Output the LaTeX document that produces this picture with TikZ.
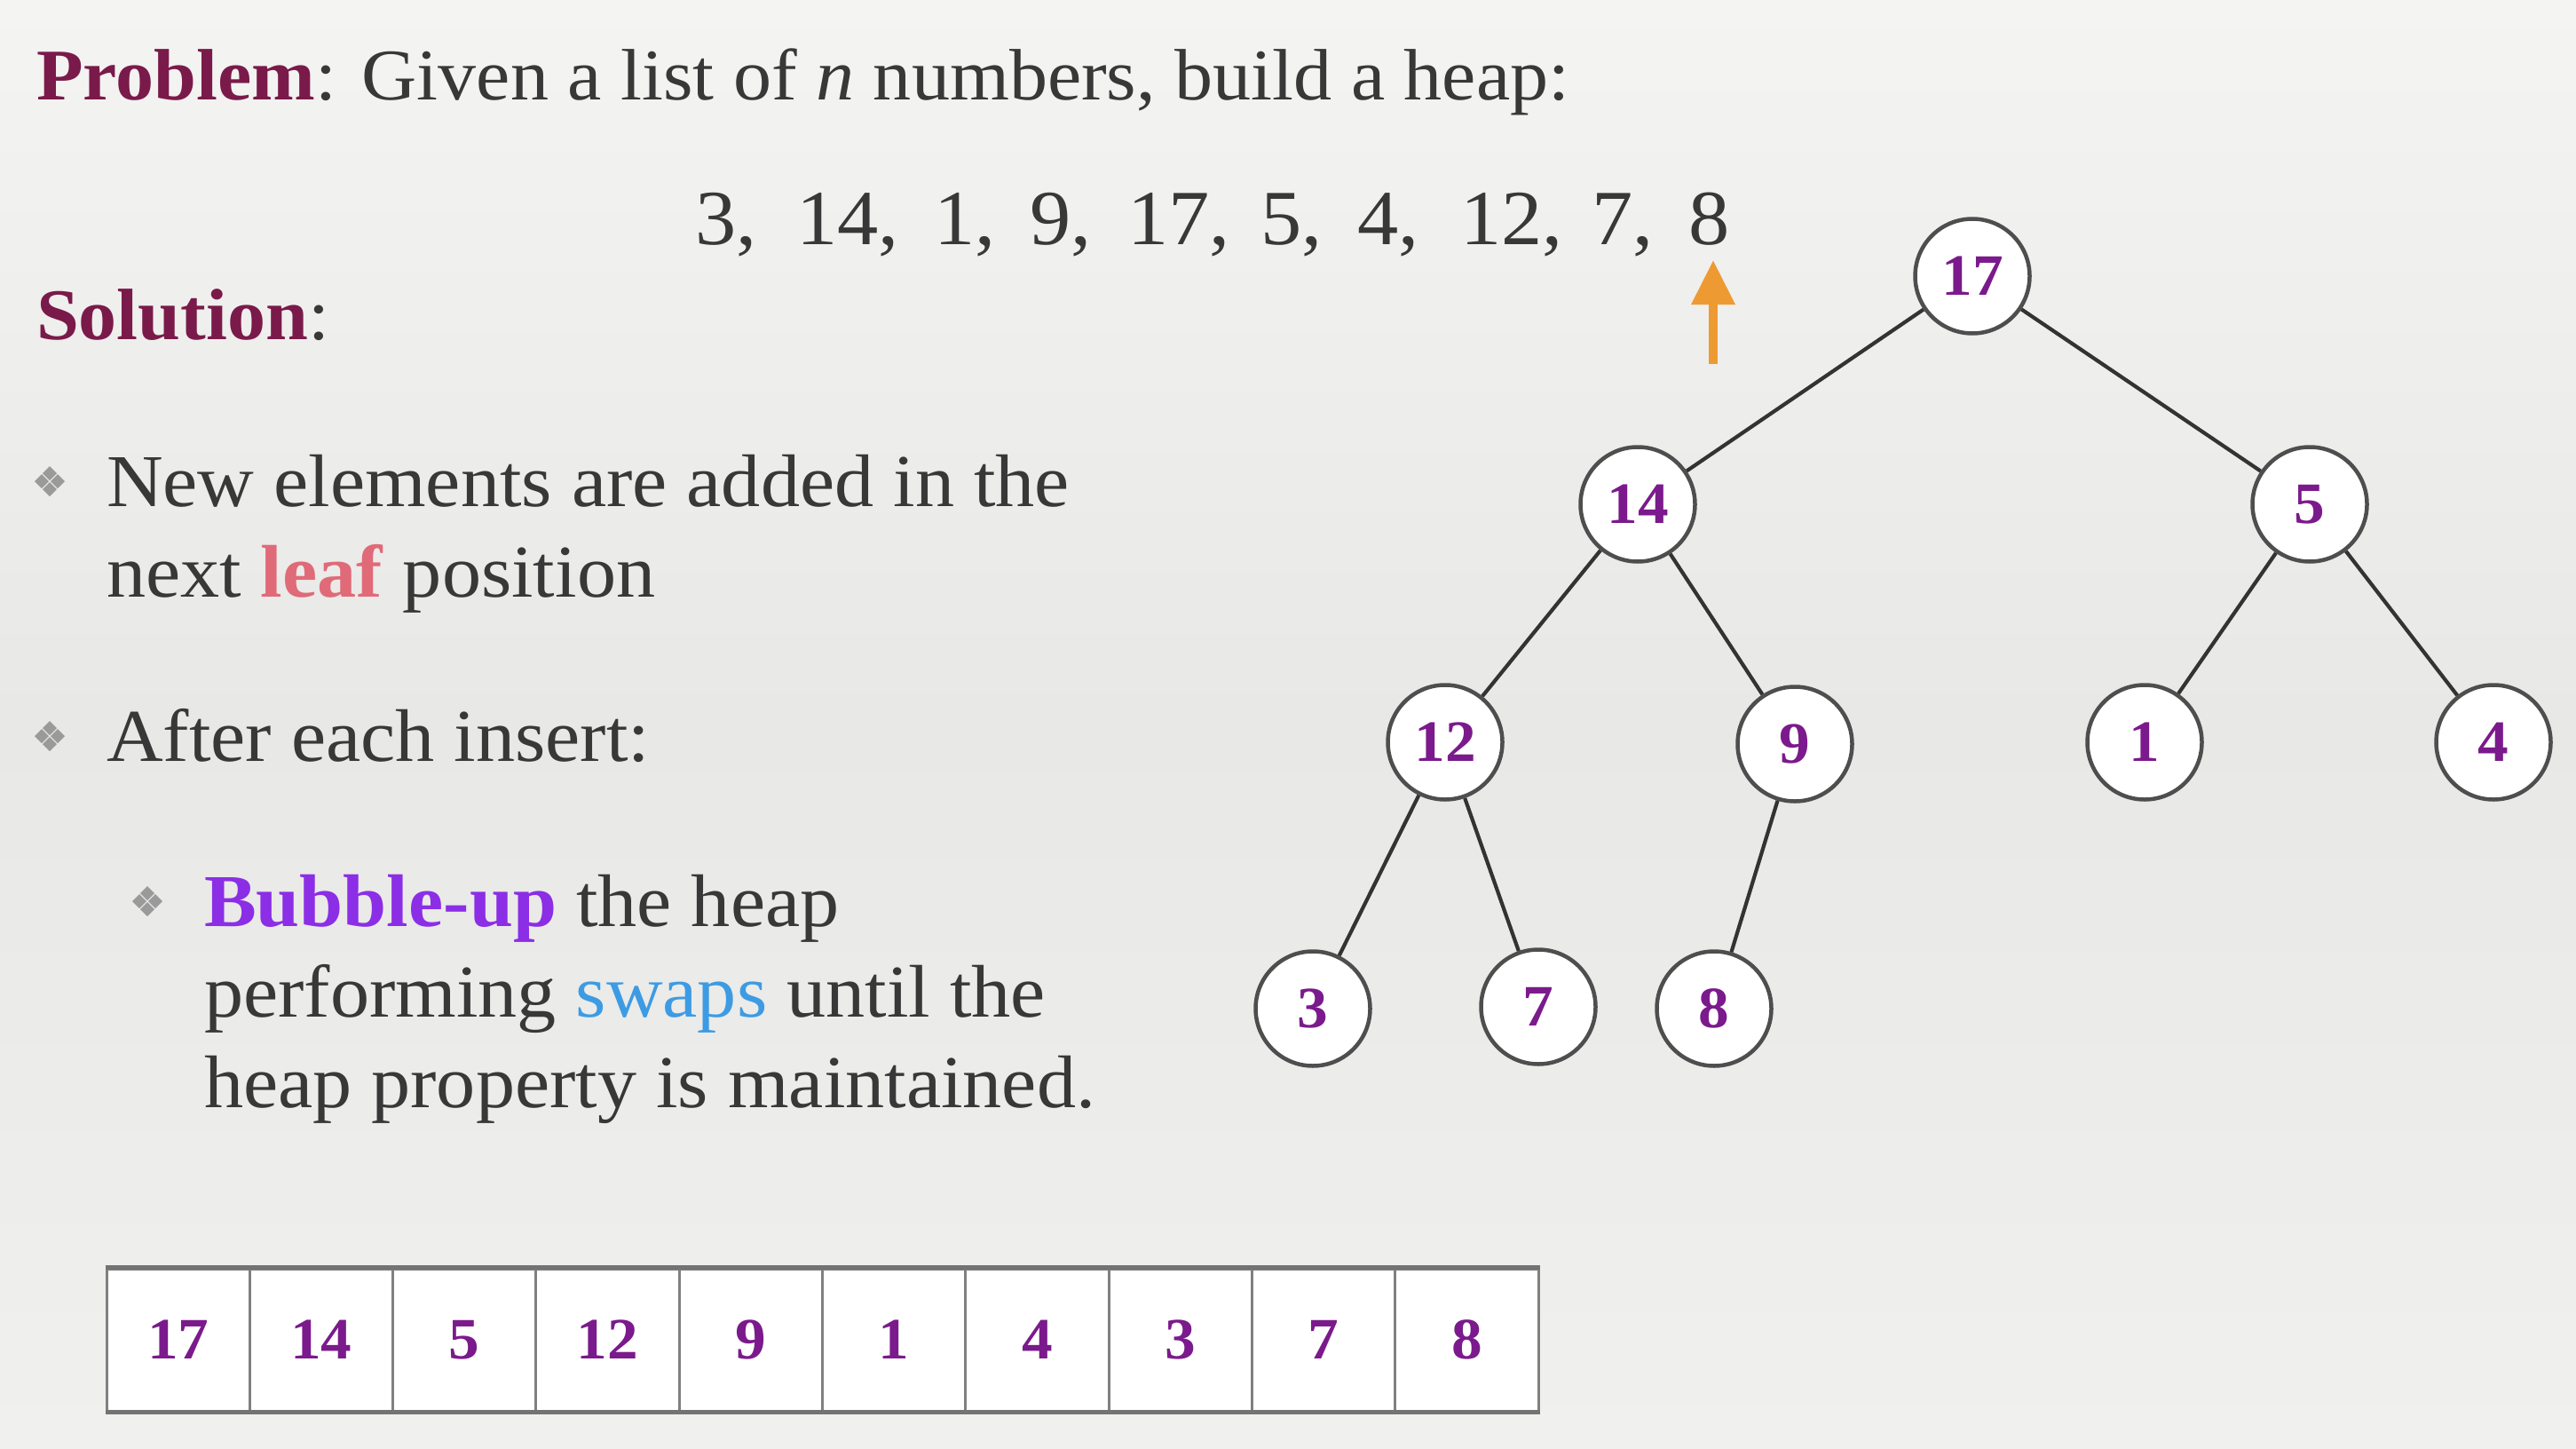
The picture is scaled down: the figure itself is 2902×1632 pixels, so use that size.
\documentclass[tikz,border=0pt]{standalone}
\usepackage{fontspec}
\setmainfont{Liberation Serif}[FakeStretch=1.05]
\usetikzlibrary{arrows.meta}
\definecolor{maroonc}{HTML}{7A1A4A}
\definecolor{txtc}{HTML}{383838}
\definecolor{leafc}{HTML}{E06A78}
\definecolor{bubc}{HTML}{8B2EE6}
\definecolor{swapc}{HTML}{3D9BE3}
\definecolor{nodec}{HTML}{7B1A8C}
\definecolor{arrc}{HTML}{EE9A33}
\definecolor{circc}{HTML}{4E4E4E}
\definecolor{edgec}{HTML}{333333}
\definecolor{bulc}{HTML}{9A9A9A}
\definecolor{cellc}{HTML}{808080}
\newcommand\bodyfont{\fontsize{84}{102}\selectfont}
\newcommand\headfont{\fontsize{82}{100}\selectfont}
\newcommand\seqfont{\fontsize{88}{100}\selectfont}
\newcommand\numfont{\fontsize{66}{70}\selectfont\bfseries}
\tikzset{
  txt/.style={anchor=base west, inner sep=0pt, outer sep=0pt, text=txtc, font=\bodyfont},
  head/.style={txt, font=\headfont},
  seq/.style={anchor=base west, inner sep=0pt, text=txtc, font=\seqfont},
  hn/.style={circle, draw=circc, line width=4.5pt, fill=white, minimum size=129pt, inner sep=0pt, font=\numfont, text=nodec},
  edge/.style={draw=edgec, line width=4.2pt},
  cell/.style={rectangle, draw=cellc, line width=3pt, fill=white, minimum width=161.3pt, minimum height=160pt, inner sep=0pt, font=\numfont, text=nodec},
  diab/.pic={
    \foreach \a/\b in {0/-9,0/9,-9/0,9/0}
      \fill[bulc] (\a,\b+8) -- (\a+8,\b) -- (\a,\b-8) -- (\a-8,\b) -- cycle;
  }
}
\begin{document}
\begin{tikzpicture}[x=1pt,y=-1pt]
\useasboundingbox (0,0) rectangle (2902,1632);
\shade[top color={rgb,255:red,244;green,244;blue,242}, bottom color={rgb,255:red,232;green,232;blue,230}] (0,0) rectangle (2902,816);
\shade[top color={rgb,255:red,232;green,232;blue,230}, bottom color={rgb,255:red,240;green,240;blue,238}] (0,816) rectangle (2902,1632);

% header text
\node[head] (prob) at (41,113) {\textcolor{maroonc}{\textbf{Problem}}: Given a list of \textit{n} numbers, build a heap:};
\node[head] (sol) at (41,382) {\textcolor{maroonc}{\textbf{Solution}}:};

% sequence
\foreach \x/\t [count=\i] in {783/{3,},897/{14,},1052/{1,},1160/{9,},1270/{17,},1420/{5,},1529/{4,},1645/{12,},1793/{7,},1902/{8}}
  \node[seq] (s\i) at (\x,275) {\t};

% arrow
\coordinate (arrA) at (1930,410);
\coordinate (arrB) at (1930,293);
\draw[arrc, line width=10pt, -{Triangle[width=47pt,length=50pt]}] (arrA) -- (arrB);

% bullets
\pic at (56,542) {diab};
\node[txt] (b1a) at (120,570) {New elements are added in the};
\node[txt] (b1b) at (120,672) {next \textcolor{leafc}{\textbf{leaf}} position};
\pic at (56,829) {diab};
\node[txt] (b2) at (120,857) {After each insert:};
\pic at (166,1015) {diab};
\node[txt] (b3a) at (230,1043) {\textcolor{bubc}{\textbf{Bubble-up}} the heap};
\node[txt] (b3b) at (230,1145) {performing \textcolor{swapc}{swaps} until the};
\node[txt] (b3c) at (230,1247) {heap property is maintained.};

% tree
\node[hn] (n17) at (2222,311) {17};
\node[hn] (n14) at (1845,568) {14};
\node[hn] (n5)  at (2602,568) {5};
\node[hn] (n12) at (1628,836) {12};
\node[hn] (n9)  at (2022,838) {9};
\node[hn] (n1)  at (2416,836) {1};
\node[hn] (n4)  at (2809,836) {4};
\node[hn] (n3)  at (1479,1136) {3};
\node[hn] (n7)  at (1733,1134) {7};
\node[hn] (n8)  at (1931,1136) {8};
\draw[edge] (n17) -- (n14);
\draw[edge] (n17) -- (n5);
\draw[edge] (n14) -- (n12);
\draw[edge] (n14) -- (n9);
\draw[edge] (n5) -- (n1);
\draw[edge] (n5) -- (n4);
\draw[edge] (n12) -- (n3);
\draw[edge] (n12) -- (n7);
\draw[edge] (n9) -- (n8);

% array
\foreach \t [count=\i] in {17,14,5,12,9,1,4,3,7,8}
  \node[cell] (c\i) at ({120+161.3*(\i-0.5)},1509) {\t};
\draw[cellc!90!black, line width=5pt] (c1.north west) -- (c10.north east);
\draw[cellc!90!black, line width=5pt] (c1.south west) -- (c10.south east);
\end{tikzpicture}
\end{document}
